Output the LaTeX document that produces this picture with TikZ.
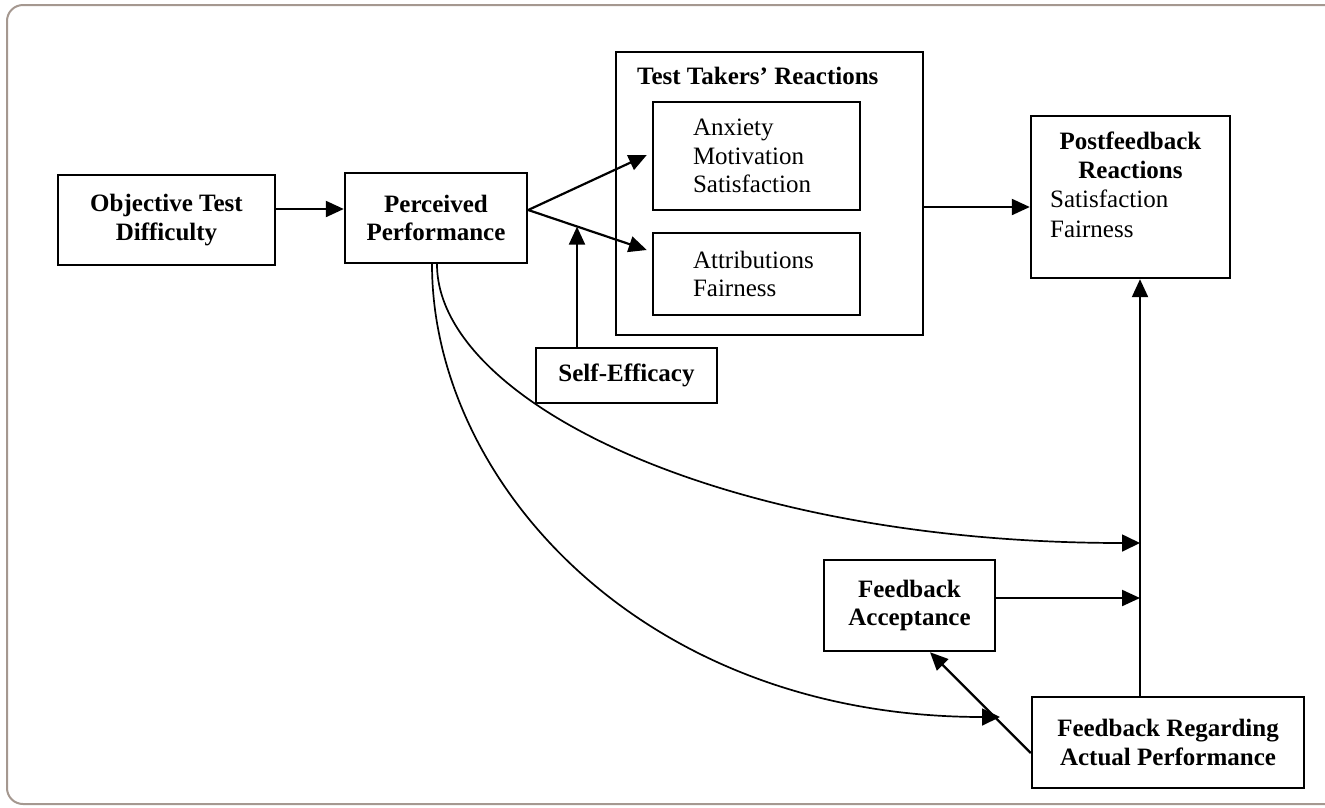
\documentclass[tikz,border=0pt]{standalone}
\usepackage{fontspec}
\setmainfont{Liberation Serif}
\usetikzlibrary{arrows.meta,calc}

\definecolor{framecol}{RGB}{165,152,144}

\begin{document}
\begin{tikzpicture}[x=1pt,y=-1pt,
  every node/.style={font=\fontsize{25}{28.5}\selectfont, inner sep=0pt},
  box/.style={draw, line width=2.4pt, align=center},
  title/.style={font=\fontsize{25}{28.5}\selectfont\bfseries},
  arr/.style={line width=2.2pt, -{Triangle[length=18pt,width=16pt]}},
  curvearr/.style={line width=1.7pt, -{Triangle[length=18pt,width=17pt]}}
]
\useasboundingbox (0,0) rectangle (1325,807);
% outer frame
\draw[framecol, line width=2pt, rounded corners=16pt] (7,5) rectangle (1345,804);

% boxes
\node[box, title, minimum width=217pt, minimum height=90pt] (otd) at (166.5,220)
  {Objective Test\\Difficulty};
\node[box, title, minimum width=182pt, minimum height=90pt] (pp) at (436,218)
  {Perceived\\Performance};
\node[box, minimum width=307pt, minimum height=283pt] (tt) at (769.5,193.5) {};
\node[title, anchor=base west] (tttitle) at (637,84) {Test Takers’ Reactions};
\node[box, align=left, text width=127pt, inner xsep=40pt, minimum height=108pt] (anx) at (756.5,156)
  {Anxiety\\Motivation\\Satisfaction};
\node[box, align=left, text width=127pt, inner xsep=40pt, minimum height=82pt] (att) at (756.5,274)
  {Attributions\\Fairness};
\node[box, title, minimum width=181pt, minimum height=55pt] (se) at (626.5,375.5)
  {Self-Efficacy};
\node[box, minimum width=199pt, minimum height=162pt] (pf) at (1130.5,197) {};
\node[title, anchor=base] (pft1) at (1130.5,149) {Postfeedback};
\node[title, anchor=base] (pft2) at (1130.5,178) {Reactions};
\node[anchor=base west] (pfs) at (1050,207) {Satisfaction};
\node[anchor=base west] (pff) at (1050,237) {Fairness};
\node[box, title, minimum width=171pt, minimum height=91pt] (fa) at (909.5,605.5)
  {Feedback\\Acceptance};
\node[box, title, minimum width=272pt, minimum height=91pt] (fra) at (1168,742.5)
  {Feedback Regarding\\Actual Performance};

% straight connectors
\coordinate (a1) at ([yshift=11pt]otd.east);
\draw[arr] (a1) -- (a1 -| pp.west);

\coordinate (ppout) at ([yshift=8pt]pp.east);
\coordinate (anxin) at ([xshift=-5pt,yshift=1pt]anx.west);
\coordinate (attin) at ([xshift=-5pt,yshift=24pt]att.west);
\draw[arr] (ppout) -- (anxin);
\draw[arr] (ppout) -- (attin);

\coordinate (sebase) at ([xshift=-49.5pt]se.north);
\coordinate (setip) at ($(ppout)!0.4167!(attin)$);
\draw[arr] (sebase) -- (sebase |- setip);

\coordinate (ttout) at ([yshift=-13.5pt]tt.east);
\draw[arr] (ttout) -- (ttout -| pf.west);

% feedback column
\coordinate (vbot) at ([xshift=-28pt]fra.north);
\draw[arr] (vbot) -- (vbot |- pf.south);
\coordinate (inA) at (vbot |- 0,543);
\coordinate (inF) at (vbot |- 0,598);
\draw[arr] (fa.east |- inF) -- (inF);
\draw[arr] ([yshift=-10.5pt]fra.west) -- ([xshift=20.5pt]fa.south);

% curved paths from perceived performance
\coordinate (inB) at (1000,717);
\draw[curvearr] ([xshift=1pt]pp.south) .. controls (437,400) and (720,543) .. (inA);
\draw[curvearr] ([xshift=-4pt]pp.south) .. controls (432,480) and (640,717) .. (inB);
\end{tikzpicture}
\end{document}
